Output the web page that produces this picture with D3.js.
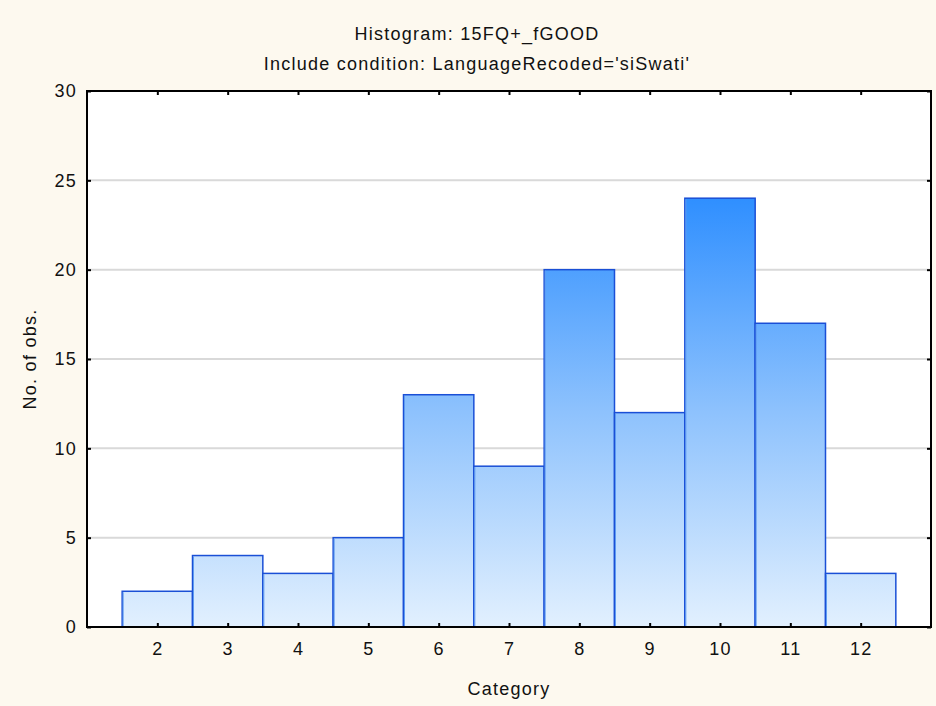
<!DOCTYPE html>
<html><head><meta charset="utf-8">
<script src="https://cdn.jsdelivr.net/npm/d3@7"></script>
<style>
html,body{margin:0;padding:0;background:#FDF9EF;}
text{font-family:"Liberation Sans",Arial,sans-serif;fill:#111;}
</style></head>
<body>
<svg id="c" width="936" height="706"></svg>
<script>
const title = "Histogram: 15FQ+_fGOOD";
const subtitle = "Include condition: LanguageRecoded='siSwati'";
const xLabel = "Category";
const yLabel = "No. of obs.";
const categories = [2,3,4,5,6,7,8,9,10,11,12];
const counts = [2,4,3,5,13,9,20,12,24,17,3];
const yTicks = [0,5,10,15,20,25,30];

const FS = "18px", LS = "1.25px";
const svg = d3.select("#c");
const L=87, R=931, T=91, B=627;
const x = d3.scaleLinear().domain([1,13]).range([L,R]);
const y = d3.scaleLinear().domain([0,30]).range([B,T]);

svg.append("rect").attr("width",936).attr("height",706).attr("fill","#FDF9EF");
svg.append("rect").attr("x",L).attr("y",T).attr("width",R-L).attr("height",B-T).attr("fill","#fff");

const defs = svg.append("defs");
const g = defs.append("linearGradient").attr("id","grad").attr("gradientUnits","userSpaceOnUse")
  .attr("x1",0).attr("x2",0).attr("y1",y(0)).attr("y2",y(24));
g.append("stop").attr("offset","0").attr("stop-color","#E2F0FE");
g.append("stop").attr("offset","0.5").attr("stop-color","#8EC2FD");
g.append("stop").attr("offset","1").attr("stop-color","#2F8FFF");

// gridlines
svg.append("g").selectAll("line").data(yTicks.filter(d=>d>0&&d<30)).join("line")
  .attr("x1",L).attr("x2",R).attr("y1",d=>y(d)).attr("y2",d=>y(d))
  .attr("stroke","#D9D9D9").attr("stroke-width",2);

// bars
const data = categories.map((c,i)=>({c,v:counts[i]}));
const bars = svg.append("g");
bars.selectAll("rect").data(data).join("rect")
  .attr("x",d=>x(d.c-0.5)).attr("width",d=>x(d.c+0.5)-x(d.c-0.5))
  .attr("y",d=>y(d.v)).attr("height",d=>y(0)-y(d.v))
  .attr("fill","url(#grad)").attr("stroke","#1A4FD6").attr("stroke-width",1.5);
bars.selectAll("line").data(data).join("line")
  .attr("x1",d=>x(d.c-0.5)+1).attr("x2",d=>x(d.c-0.5)+1)
  .attr("y1",d=>y(d.v)+1).attr("y2",y(0))
  .attr("stroke","#5E9CF0").attr("stroke-width",1);

// frame
svg.append("rect").attr("x",L).attr("y",T).attr("width",R-L).attr("height",B-T)
  .attr("fill","none").attr("stroke","#000").attr("stroke-width",2);

// axes
const axB = svg.append("g").attr("transform",`translate(0,${B})`)
  .call(d3.axisBottom(x).tickValues(categories).tickSize(-4).tickPadding(15).tickFormat(d3.format("d")));
const axT = svg.append("g").attr("transform",`translate(0,${T})`)
  .call(d3.axisTop(x).tickValues(categories).tickSize(-4).tickFormat(""));
const axL = svg.append("g").attr("transform",`translate(${L},0)`)
  .call(d3.axisLeft(y).tickValues(yTicks).tickSize(-4).tickPadding(10).tickFormat(d3.format("d")));
const axR = svg.append("g").attr("transform",`translate(${R},0)`)
  .call(d3.axisRight(y).tickValues(yTicks).tickSize(-4).tickFormat(""));
[axB,axT,axL,axR].forEach(a=>{
  a.select(".domain").remove();
  a.selectAll(".tick line").attr("stroke","#000").attr("stroke-width",2);
  a.selectAll("text").style("font-size",FS).style("letter-spacing",LS)
    .style("font-family","'Liberation Sans',Arial,sans-serif").attr("fill","#111");
});

function label(t){ return t.style("font-size",FS).style("letter-spacing",LS).attr("text-anchor","middle"); }
label(svg.append("text").attr("x",477).attr("y",40)).text(title);
label(svg.append("text").attr("x",477).attr("y",70)).text(subtitle);
label(svg.append("text").attr("x",(L+R)/2).attr("y",695)).text(xLabel);
label(svg.append("text").attr("transform",`translate(36,${(T+B)/2}) rotate(-90)`)).text(yLabel);
</script>
</body></html>
